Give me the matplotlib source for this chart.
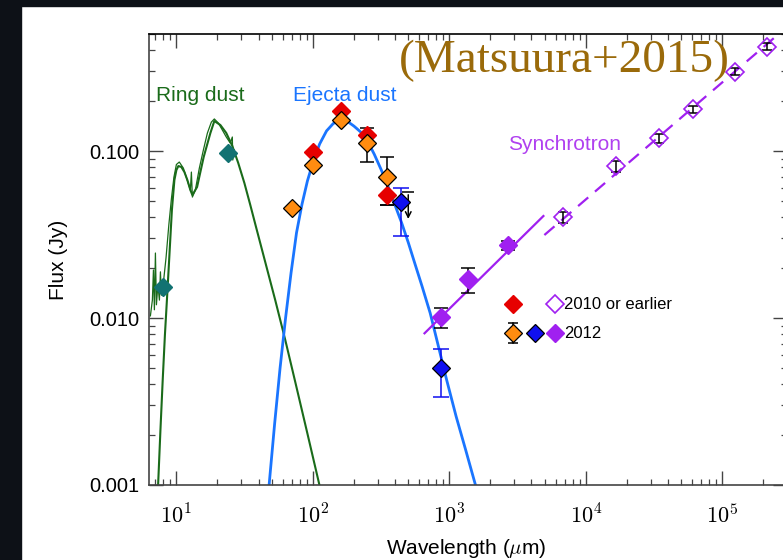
import numpy as np
import matplotlib.pyplot as plt
from matplotlib.patches import Rectangle
from matplotlib.ticker import FixedLocator, LogLocator, FuncFormatter, NullFormatter

plt.rcParams['font.family'] = ['Liberation Sans', 'DejaVu Sans']
plt.rcParams['mathtext.fontset'] = 'cm'

# ring dust model and IRS spectrum (green)
ring_wave = [7.14, 7.35, 7.64, 7.94, 8.24, 8.55, 8.89, 9.27, 9.67, 10.0, 10.34, 10.88, 11.45,
             12.04, 12.66, 13.1, 14.18, 15.85, 17.74, 18.97, 21.0, 23.2, 25.7, 28.4, 31.5,
             34.8, 38.5, 44.8, 53.0, 62.8, 74.3, 91.0, 111.4, 123]
ring_flux = [0.00071, 0.00101, 0.00213, 0.00426, 0.00791, 0.0134, 0.0238, 0.0443, 0.067, 0.0769,
             0.0813, 0.0802, 0.0748, 0.067, 0.0584, 0.0545, 0.0609, 0.0921, 0.128, 0.1512,
             0.1431, 0.1282, 0.1072, 0.0847, 0.0643, 0.0475, 0.0346, 0.0216, 0.0128, 0.00738,
             0.00414, 0.00205, 0.00101, 0.00071]
spec_wave = [6.45, 6.67, 6.79, 6.90, 7.02, 7.14, 7.32, 7.51, 7.64, 7.77, 8.0, 8.4, 8.8, 9.2,
             9.6, 10.0, 10.5, 11.25, 12.0, 12.66, 12.88, 13.1, 13.77, 14.73, 15.77, 16.87,
             18.04, 18.97, 20.3, 21.7, 23.2, 24.8, 25.7, 25.9, 26.6]
spec_flux = [0.0103, 0.0128, 0.0194, 0.0112, 0.0245, 0.0120, 0.0158, 0.0128, 0.0189, 0.0137,
             0.0158, 0.0230, 0.0360, 0.0520, 0.0700, 0.0830, 0.0859, 0.0790, 0.0670, 0.0584,
             0.0748, 0.0530, 0.0584, 0.0790, 0.1014, 0.128, 0.149, 0.1556, 0.147, 0.1337,
             0.1213, 0.1117, 0.1213, 0.0883, 0.1014]
teal_wave = [8.0, 24.0]
teal_flux = [0.0153, 0.0969]

# ejecta dust model (blue)
ejecta_wave = [47.9, 52.5, 57.5, 63.1, 69.2, 75.9, 83.2, 91.2, 100, 112, 126, 141, 158, 178, 200,
               224, 251, 282, 316, 355, 398, 447, 501, 562, 631, 724, 832, 955, 1122, 1318, 1549]
ejecta_flux = [0.00102, 0.00234, 0.00501, 0.0100, 0.0186, 0.0324, 0.0479, 0.0661, 0.0851, 0.110,
               0.132, 0.146, 0.153, 0.151, 0.141, 0.130, 0.115, 0.0955, 0.0776, 0.0617, 0.0479,
               0.0372, 0.0282, 0.0209, 0.0155, 0.0107, 0.00676, 0.00427, 0.00257, 0.00162, 0.00101]

# photometry: 2010 or earlier (red), 2012 (orange, blue)
red_wave = [100, 160, 250, 350]
red_flux = [0.099, 0.174, 0.125, 0.0545]
orange_wave = [70, 100, 160, 250, 350]
orange_flux = [0.0454, 0.0824, 0.1533, 0.111, 0.0702]
orange_err_wave = [250, 350]
orange_err_flux = [0.111, 0.0702]
orange_err_lo = [0.086, 0.0475]
orange_err_hi = [0.137, 0.092]
blue_wave = [442, 867]
blue_flux = [0.0497, 0.0050]
blue_lo = [0.0309, 0.00336]
blue_hi = [0.0598, 0.0065]
limit_wave = [500]
limit_flux = [0.0568]
limit_tip = [0.0377]

# synchrotron
sync12_wave = [867, 1380, 2710]
sync12_flux = [0.0102, 0.0171, 0.0274]
sync12_lo = [0.0087, 0.0141, 0.0255]
sync12_hi = [0.0115, 0.0200, 0.0289]
sync10_wave = [6780, 16600, 34500, 61200, 123600, 211000]
sync10_flux = [0.0405, 0.0817, 0.120, 0.178, 0.299, 0.421]
sync10_lo = [0.0369, 0.0752, 0.112, 0.1695, 0.285, 0.403]
sync10_hi = [0.0434, 0.0875, 0.126, 0.186, 0.313, 0.443]
fit12_wave = [658, 4890]
fit12_flux = [0.0081, 0.0408]
fit10_wave = [4970, 264000]
fit10_flux = [0.0314, 0.509]

GREEN = '#1a6b1a'
TEAL = '#127272'
BLUE_LINE = '#1a75ff'
BLUE = '#1010f0'
RED = '#e60000'
ORANGE = '#ff8c10'
PURPLE = '#a020f0'
MS = 8.8

fig = plt.figure(figsize=(7.83, 5.60), dpi=100)
fig.patches.append(Rectangle((0, 0), 21 / 783, 1, transform=fig.transFigure,
                             color='#0d1117', zorder=0))
fig.patches.append(Rectangle((0, 554 / 560), 1, 6 / 560, transform=fig.transFigure,
                             color='#0d1117', zorder=0))
ax = fig.add_axes([149 / 783, 75 / 560, 638 / 783, 451 / 560])
ax.set_xscale('log')
ax.set_yscale('log')
ax.set_xlim(6.3, 2.98e5)
ax.set_ylim(0.001, 0.502)

# curves
ax.plot(spec_wave, spec_flux, color=GREEN, lw=0.9, zorder=2)
ax.plot(ring_wave, ring_flux, color=GREEN, lw=1.5, zorder=2)
ax.plot(ejecta_wave, ejecta_flux, color=BLUE_LINE, lw=2.0, zorder=2)
ax.plot(fit12_wave, fit12_flux, color=PURPLE, lw=1.6, zorder=2)
ax.plot(fit10_wave, fit10_flux, color=PURPLE, lw=1.6, dashes=(6, 4), zorder=2)

# error bars
def err(w, f, lo, hi, color, cs=5):
    f = np.array(f)
    yerr = [f - np.array(lo), np.array(hi) - f]
    ax.errorbar(w, f, yerr=yerr, fmt='none', ecolor=color, elinewidth=1.1,
                capsize=cs, capthick=1.1, zorder=3)

err(orange_err_wave, orange_err_flux, orange_err_lo, orange_err_hi, 'k')
err([350], [0.0545], [0.0475], [0.0545], 'k')
err(blue_wave, blue_flux, blue_lo, blue_hi, BLUE, cs=6)
err(sync12_wave, sync12_flux, sync12_lo, sync12_hi, 'k')
err(sync10_wave, sync10_flux, sync10_lo, sync10_hi, 'k', cs=3.5)
ax.plot(limit_wave, limit_flux, marker='_', ms=9, mew=1.1, color='k', ls='none', zorder=3)
ax.annotate('', xy=(limit_wave[0], limit_tip[0]), xytext=(limit_wave[0], limit_flux[0]),
            arrowprops=dict(arrowstyle='->', color='k', lw=1.1), zorder=3)

# markers
ax.plot(teal_wave, teal_flux, 'D', ms=MS, color=TEAL, mec=TEAL, zorder=4)
ax.plot(red_wave, red_flux, 'D', ms=MS, color=RED, mec=RED, zorder=4)
ax.plot(orange_wave, orange_flux, 'D', ms=MS, color=ORANGE, mec='k', mew=0.9, zorder=5)
ax.plot(blue_wave, blue_flux, 'D', ms=MS, color=BLUE, mec='k', mew=0.9, zorder=5)
ax.plot(sync12_wave, sync12_flux, 'D', ms=MS, color=PURPLE, mec=PURPLE, zorder=4)
ax.plot(sync10_wave, sync10_flux, 'D', ms=MS, mfc='none', mec=PURPLE, mew=1.2, zorder=4)

# legend keys
kw = dict(transform=ax.transAxes, clip_on=False, ms=MS, ls='none', zorder=6)
ax.plot([0.5705], [0.4013], 'D', color=RED, **kw)
ax.plot([0.6364], [0.4013], 'D', mfc='white', mec=PURPLE, mew=1.2, **kw)
ax.plot([0.5705, 0.5705], [0.314, 0.360], color='k', lw=1.1, transform=ax.transAxes, zorder=5)
ax.plot([0.5705, 0.5705], [0.314, 0.360], '_', color='k', ms=7, mew=1.1,
        transform=ax.transAxes, zorder=5)
ax.plot([0.5705], [0.337], 'D', color=ORANGE, mec='k', mew=0.9, **kw)
ax.plot([0.605], [0.337], 'D', color=BLUE, mec='k', mew=0.9, **kw)
ax.plot([0.6364], [0.337], 'D', color=PURPLE, mec=PURPLE, **kw)
ax.text(0.6505, 0.4013, '2010 or earlier', transform=ax.transAxes, fontsize=12,
        va='center', ha='left')
ax.text(0.6505, 0.337, '2012', transform=ax.transAxes, fontsize=12, va='center', ha='left')

# labels
ax.text(0.011, 0.8514, 'Ring dust', color=GREEN, fontsize=15, transform=ax.transAxes,
        va='baseline')
ax.text(0.2252, 0.8514, 'Ejecta dust', color=BLUE_LINE, fontsize=15, transform=ax.transAxes,
        va='baseline')
ax.text(0.5627, 0.7428, 'Synchrotron', color='#b040f0', fontsize=15, transform=ax.transAxes,
        va='baseline')
fig.text(564.5 / 783, 1 - 72 / 560, '(Matsuura+2015)', color='#9a6a0a', fontsize=34,
         family='Liberation Serif', ha='center', va='baseline')

# axes styling
ax.yaxis.set_major_locator(FixedLocator([0.001, 0.01, 0.1]))
ax.yaxis.set_minor_locator(LogLocator(base=10, subs=np.arange(2, 10)))
ax.yaxis.set_major_formatter(FuncFormatter(lambda v, _: '%.3f' % v))
ax.yaxis.set_minor_formatter(NullFormatter())
ax.xaxis.set_major_locator(LogLocator(base=10))
ax.xaxis.set_minor_locator(LogLocator(base=10, subs=np.arange(2, 10)))
ax.xaxis.set_major_formatter(FuncFormatter(lambda v, _: r'$10^{%d}$' % round(np.log10(v))))
ax.tick_params(which='both', direction='in', top=True, right=True, color='#444444')
ax.tick_params(which='major', length=10, width=1.0)
ax.tick_params(which='minor', length=4.5, width=0.9)
ax.tick_params(axis='y', labelsize=14.5, pad=7)
ax.tick_params(axis='x', labelsize=16, pad=14)
for s in ax.spines.values():
    s.set_color('#444444')
    s.set_linewidth(1.2)
ax.spines['top'].set_color('k')

ax.set_xlabel(r'Wavelength ($\mu$m)', fontsize=15)
ax.set_ylabel('Flux (Jy)', fontsize=15)
ax.xaxis.set_label_coords(0.497, -0.115)
ax.yaxis.set_label_coords(-0.127, 0.5)

fig.savefig('out.png', dpi=100)
